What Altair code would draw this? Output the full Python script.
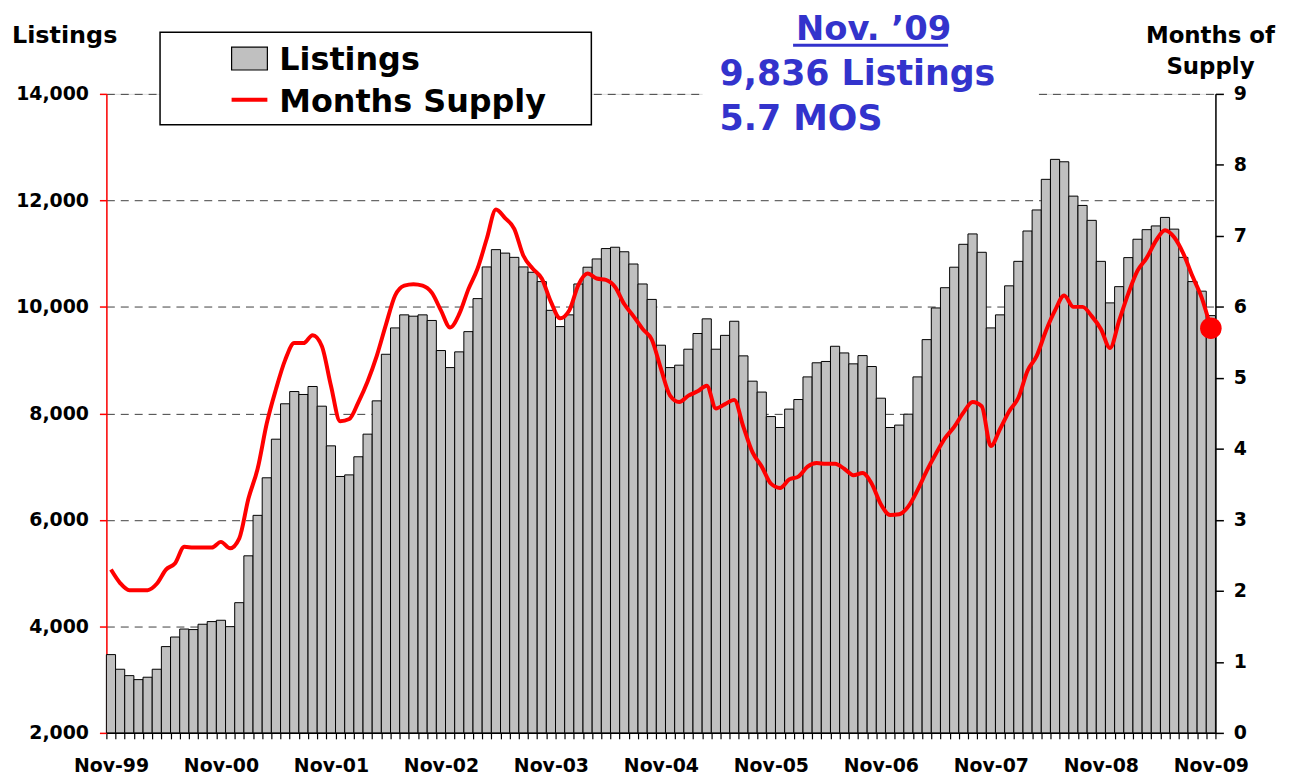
import altair as alt
import pandas as pd

# ---- data (Nov-99 .. Nov-09, monthly) ----
LISTINGS = [3470, 3195, 3075, 3000, 3045, 3195, 3620, 3800, 3950, 3940,
            4040, 4090, 4115, 3995, 4445, 5325, 6085, 6790, 7515, 8180,
            8410, 8355, 8505, 8135, 7390, 6815, 6845, 7185, 7610, 8235,
            9110, 9605, 9850, 9825, 9850, 9745, 9180, 8860, 9155, 9535,
            10155, 10750, 11075, 11010, 10930, 10750, 10650, 10475, 9935, 9630,
            9850, 10430, 10745, 10900, 11095, 11120, 11035, 10805, 10430, 10140,
            9280, 8860, 8905, 9205, 9500, 9775, 9205, 9465, 9730, 9080,
            8605, 8400, 7940, 7735, 8080, 8260, 8685, 8950, 8975, 9260,
            9135, 8930, 9085, 8880, 8285, 7735, 7780, 7985, 8685, 9385,
            9980, 10360, 10745, 11175, 11370, 11025, 9605, 9850, 10395, 10855,
            11425, 11820, 12395, 12770, 12725, 12080, 11905, 11625, 10855, 10075,
            10380, 10925, 11270, 11450, 11520, 11680, 11460, 10930, 10475, 10295, 9836]

MOS = [2.30, 2.11, 2.01, 2.01, 2.01, 2.10, 2.30, 2.39, 2.62, 2.61,
       2.61, 2.61, 2.69, 2.60, 2.74, 3.30, 3.72, 4.36, 4.84, 5.25,
       5.49, 5.49, 5.60, 5.45, 4.89, 4.39, 4.42, 4.66, 4.95, 5.31,
       5.75, 6.16, 6.30, 6.32, 6.30, 6.20, 5.95, 5.71, 5.90, 6.25,
       6.54, 6.96, 7.37, 7.25, 7.10, 6.72, 6.54, 6.40, 6.07, 5.84,
       5.95, 6.31, 6.47, 6.40, 6.38, 6.28, 6.04, 5.87, 5.69, 5.54,
       5.13, 4.75, 4.66, 4.75, 4.81, 4.89, 4.57, 4.63, 4.69, 4.31,
       3.95, 3.75, 3.51, 3.45, 3.57, 3.61, 3.75, 3.80, 3.79, 3.79,
       3.72, 3.63, 3.66, 3.51, 3.22, 3.07, 3.08, 3.19, 3.42, 3.69,
       3.93, 4.15, 4.31, 4.51, 4.66, 4.60, 4.04, 4.28, 4.53, 4.72,
       5.10, 5.31, 5.66, 5.95, 6.16, 6.00, 6.00, 5.87, 5.69, 5.42,
       5.81, 6.19, 6.51, 6.69, 6.93, 7.08, 6.98, 6.75, 6.43, 6.13, 5.70]

TICK_LABELS = ["Nov-99", "Nov-00", "Nov-01", "Nov-02", "Nov-03", "Nov-04",
               "Nov-05", "Nov-06", "Nov-07", "Nov-08", "Nov-09"]

MONTH_NAMES = ["Jan", "Feb", "Mar", "Apr", "May", "Jun",
               "Jul", "Aug", "Sep", "Oct", "Nov", "Dec"]
MONTHS = []
for i in range(len(LISTINGS)):
    m = (10 + i) % 12
    y = (1999 + (10 + i) // 12) % 100
    MONTHS.append(f"{MONTH_NAMES[m]}-{y:02d}")

df = pd.DataFrame({"month": MONTHS, "listings": LISTINGS, "mos": MOS})

FONT = "DejaVu Sans"
BLUE = "#3333CC"
W, H = 1116, 643

tick_list = "[" + ",".join(f"'{t}'" for t in TICK_LABELS) + "]"
x_enc = alt.X(
    "month:N",
    sort=None,
    scale=alt.Scale(domain=MONTHS, paddingInner=0, paddingOuter=0),
    axis=alt.Axis(
        title=None,
        labelExpr=f"indexof({tick_list}, datum.label) >= 0 ? datum.label : ''",
        labelAngle=0,
        labelOverlap=False,
        labelFont=FONT, labelFontSize=19, labelFontWeight="bold", labelColor="black",
        labelPadding=18,
        tickBand="extent", tickSize=6, tickColor="black", tickWidth=1.2,
        domainColor="black", domainWidth=1.5, grid=False,
    ),
)

bars = alt.Chart(df).mark_bar(color="#C0C0C0", stroke="black", strokeWidth=1).encode(
    x=x_enc,
    y=alt.Y(
        "listings:Q",
        scale=alt.Scale(domain=[2000, 14000], nice=False, zero=False),
        axis=alt.Axis(
            orient="left", title=None,
            values=[2000, 4000, 6000, 8000, 10000, 12000, 14000], format=",d",
            labelFont=FONT, labelFontSize=19, labelFontWeight="bold", labelColor="black",
            labelPadding=11,
            domainColor="#FF0000", domainWidth=1.5,
            tickColor="#FF0000", tickSize=7, tickWidth=1.5,
            grid=True, gridDash=[8, 6], gridColor="#404040", gridWidth=1,
        ),
    ),
    y2=alt.datum(2000),
)

y_right = alt.Y(
    "mos:Q",
    scale=alt.Scale(domain=[0, 9], nice=False),
    axis=alt.Axis(
        orient="right", title=None, values=list(range(10)),
        labelFont=FONT, labelFontSize=19, labelFontWeight="bold", labelColor="black",
        labelPadding=10,
        domainColor="black", domainWidth=1.5,
        tickColor="black", tickSize=8, tickWidth=1.5, grid=False,
    ),
)

line = alt.Chart(df).mark_line(color="#FF0000", strokeWidth=4, interpolate="monotone").encode(
    x=x_enc, y=y_right
)
dot = alt.Chart(df).transform_filter(alt.datum.month == "Nov-09").mark_circle(
    color="#FF0000", size=470, opacity=1
).encode(x=x_enc, y=y_right)

right = alt.layer(line, dot)


def txt(s, x, y, size, color="black", align="left", baseline="alphabetic"):
    return alt.Chart(pd.DataFrame({"t": [s]})).mark_text(
        font=FONT, fontSize=size, fontWeight="bold", color=color,
        align=align, baseline=baseline,
    ).encode(text="t:N", x=alt.value(x), y=alt.value(y))


def box(x1, x2, y1, y2, fill, stroke=None, sw=0):
    kw = dict(fill=fill, strokeWidth=sw)
    if stroke:
        kw["stroke"] = stroke
    return alt.Chart(pd.DataFrame({"t": [0]})).mark_rect(**kw).encode(
        x=alt.value(x1), x2=alt.value(x2), y=alt.value(y1), y2=alt.value(y2)
    )


# axis titles
title_left = txt("Listings", -95, -51, 24)
title_r1 = txt("Months of", 1111, -51, 23, align="center")
title_r2 = txt("Supply", 1111, -20, 23, align="center")

# legend
legend_box = box(54, 488, -62, 31, "white", "black", 1.5)
legend_sq = box(126, 162, -47, -24, "#C0C0C0", "black", 1.2)
legend_line = alt.Chart(pd.DataFrame({"t": [0]})).mark_rule(color="#FF0000", strokeWidth=4).encode(
    x=alt.value(126), x2=alt.value(162), y=alt.value(6)
)
legend_t1 = txt("Listings", 174, -24, 32)
legend_t2 = txt("Months Supply", 174, 18, 32)

# annotation
ann_bg = box(600, 938, -84, 48, "white")
ann1 = txt("Nov. \u201909", 772, -54, 34, color=BLUE, align="center")
ann_ul = alt.Chart(pd.DataFrame({"t": [0]})).mark_rule(color=BLUE, strokeWidth=3).encode(
    x=alt.value(691), x2=alt.value(847), y=alt.value(-49)
)
ann2 = txt("9,836 Listings", 617, -9, 35, color=BLUE)
ann3 = txt("5.7 MOS", 617, 36, 35, color=BLUE)

chart = alt.layer(
    bars, right,
    title_left, title_r1, title_r2,
    legend_box, legend_sq, legend_line, legend_t1, legend_t2,
    ann_bg, ann1, ann_ul, ann2, ann3,
).resolve_scale(y="independent").properties(
    width=W, height=H,
    autosize=alt.AutoSizeParams(type="none"),
    padding={"left": 99, "top": 84, "right": 70, "bottom": 44},
).configure_view(strokeWidth=0).configure(background="white")

chart.save("out.html", embed_options={"renderer": "svg", "actions": False})
